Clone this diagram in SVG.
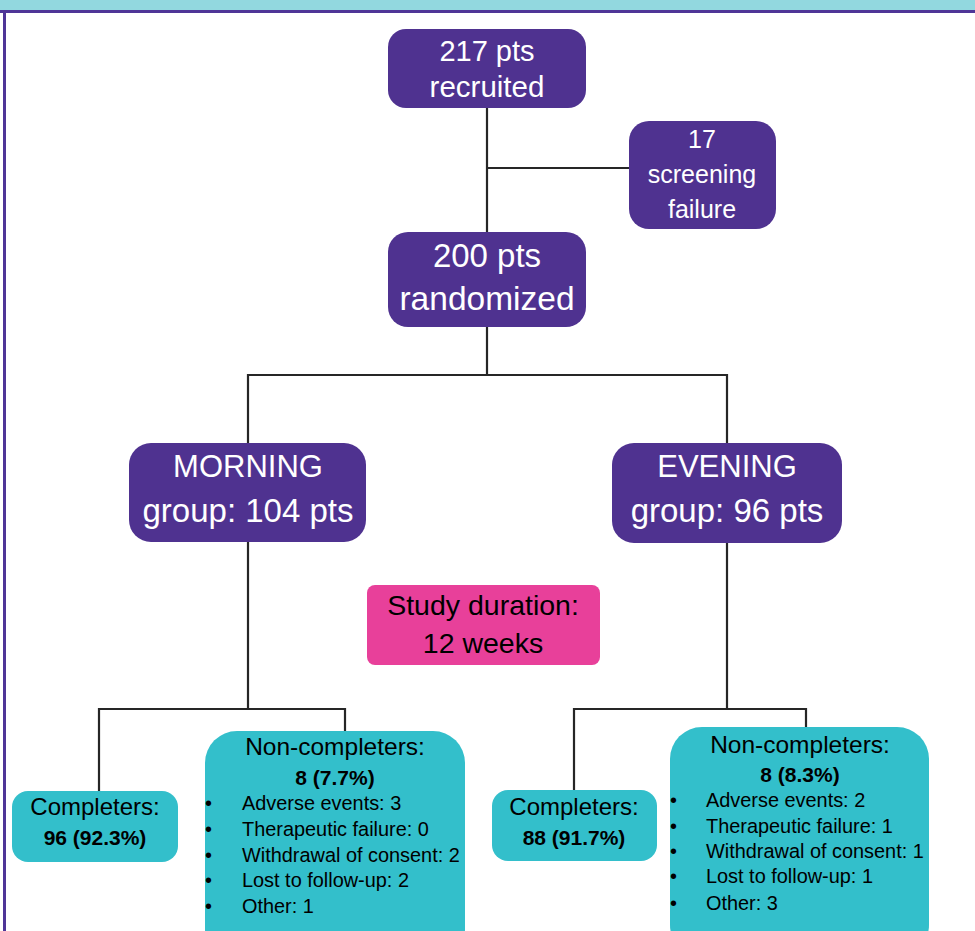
<svg xmlns="http://www.w3.org/2000/svg" width="975" height="931" viewBox="0 0 975 931">
<style>
.frame{fill:none;stroke:#4f3597;stroke-width:3}
.p{fill:#4f3290}
.t{fill:#33bfcb}
.k{fill:#e8409a}
.w{fill:#ffffff;font-family:"Liberation Sans",Arial,sans-serif;text-anchor:middle}
.b{fill:#000000;font-family:"Liberation Sans",Arial,sans-serif}
.c{text-anchor:middle}
.bold{font-weight:bold}
.conn{fill:none;stroke:#262626;stroke-width:2.2}
</style>
<rect x="0" y="0" width="975" height="931" fill="#ffffff"/>
<rect x="0" y="0" width="975" height="11" fill="#92d8df"/>
<line class="frame" x1="0" y1="11.5" x2="975" y2="11.5"/>
<line class="frame" x1="4.5" y1="11" x2="4.5" y2="931"/>
<g id="connectors">
<path class="conn" d="M487 108V232M487 168H629"/>
<path class="conn" d="M487 327V375M248 443V375H727V443"/>
<path class="conn" d="M248 542V709M99 791V709H345V731"/>
<path class="conn" d="M727 543V709M574 790V709H806V727"/>
</g>
<g id="recruited">
<rect class="p" x="388" y="29" width="198" height="79" rx="18"/>
<text class="w" x="487" y="61" font-size="29">217 pts</text>
<text class="w" x="487" y="97" font-size="29.5">recruited</text>
</g>
<g id="screening">
<rect class="p" x="629" y="121" width="147" height="108" rx="20"/>
<text class="w" x="702" y="148" font-size="25">17</text>
<text class="w" x="702" y="183" font-size="25">screening</text>
<text class="w" x="702" y="218" font-size="25">failure</text>
</g>
<g id="randomized">
<rect class="p" x="388" y="232" width="198" height="95" rx="20"/>
<text class="w" x="487" y="267" font-size="33">200 pts</text>
<text class="w" x="487" y="310" font-size="33.5">randomized</text>
</g>
<g id="morning">
<rect class="p" x="129" y="443" width="237" height="99" rx="22"/>
<text class="w" x="248" y="477" font-size="31">MORNING</text>
<text class="w" x="248" y="522" font-size="33">group: 104 pts</text>
</g>
<g id="evening">
<rect class="p" x="612" y="443" width="230" height="100" rx="22"/>
<text class="w" x="727" y="477" font-size="31">EVENING</text>
<text class="w" x="727" y="522" font-size="33">group: 96 pts</text>
</g>
<g id="duration">
<rect class="k" x="367" y="585" width="233" height="80" rx="8"/>
<text class="b c" x="483" y="615" font-size="28.5">Study duration:</text>
<text class="b c" x="483" y="653" font-size="28.5">12 weeks</text>
</g>
<g id="completers-morning">
<rect class="t" x="12" y="791" width="166" height="71" rx="16"/>
<text class="b c" x="95" y="815" font-size="24">Completers:</text>
<text class="b c bold" x="95" y="845" font-size="21">96 (92.3%)</text>
</g>
<g id="noncompleters-morning">
<rect class="t" x="205" y="731" width="260" height="230" rx="32"/>
<text class="b c" x="335" y="755" font-size="24.5">Non-completers:</text>
<text class="b c bold" x="335" y="785" font-size="21">8 (7.7%)</text>
<g font-size="19.9" class="b">
<text x="205" y="810">•</text><text x="242" y="810">Adverse events: 3</text>
<text x="205" y="836">•</text><text x="242" y="836">Therapeutic failure: 0</text>
<text x="205" y="862">•</text><text x="242" y="862">Withdrawal of consent: 2</text>
<text x="205" y="887">•</text><text x="242" y="887">Lost to follow-up: 2</text>
<text x="205" y="913">•</text><text x="242" y="913">Other: 1</text>
</g>
</g>
<g id="completers-evening">
<rect class="t" x="492" y="790" width="165" height="71" rx="16"/>
<text class="b c" x="574" y="815" font-size="24">Completers:</text>
<text class="b c bold" x="574" y="845" font-size="21">88 (91.7%)</text>
</g>
<g id="noncompleters-evening">
<rect class="t" x="670" y="727" width="259" height="230" rx="32"/>
<text class="b c" x="800" y="753" font-size="24.5">Non-completers:</text>
<text class="b c bold" x="800" y="782" font-size="21">8 (8.3%)</text>
<g font-size="19.9" class="b">
<text x="670" y="807">•</text><text x="706" y="807">Adverse events: 2</text>
<text x="670" y="833">•</text><text x="706" y="833">Therapeutic failure: 1</text>
<text x="670" y="858">•</text><text x="706" y="858">Withdrawal of consent: 1</text>
<text x="670" y="883">•</text><text x="706" y="883">Lost to follow-up: 1</text>
<text x="670" y="910">•</text><text x="706" y="910">Other: 3</text>
</g>
</g>
</svg>
